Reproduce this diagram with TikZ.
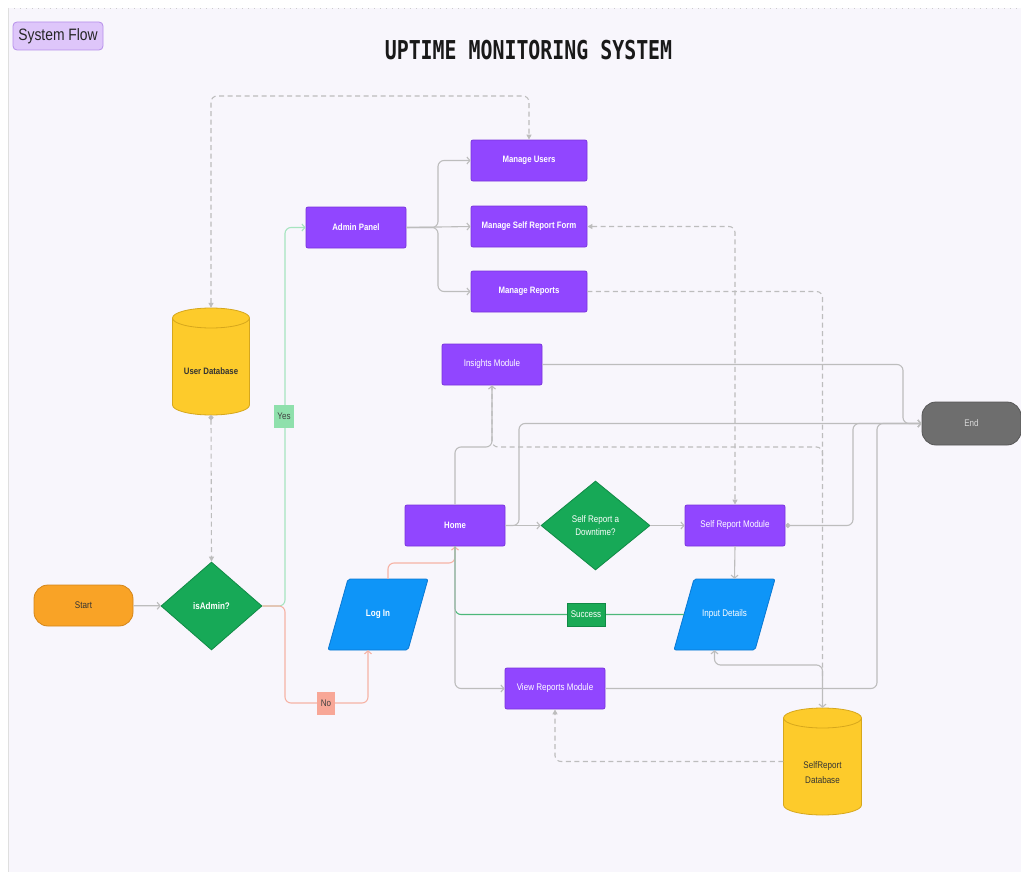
\documentclass[tikz,border=0pt]{standalone}
\usepackage{fontspec}
\setmainfont[FakeStretch=0.84]{Liberation Sans}
\newfontfamily\titlefont[FakeStretch=0.765]{DejaVu Sans Mono}
\usetikzlibrary{arrows.meta,calc,shapes.geometric}
\definecolor{bg}{HTML}{F8F6FC}
\definecolor{purp}{HTML}{9146FF}
\definecolor{purpd}{HTML}{7A34DC}
\definecolor{grn}{HTML}{17A957}
\definecolor{grnd}{HTML}{118A46}
\definecolor{blu}{HTML}{0E95F8}
\definecolor{blud}{HTML}{0A78D2}
\definecolor{yel}{HTML}{FDCB2B}
\definecolor{yeld}{HTML}{D6A71C}
\definecolor{org}{HTML}{F9A326}
\definecolor{orgd}{HTML}{D4861A}
\definecolor{endg}{HTML}{6E6E6E}
\definecolor{endd}{HTML}{575757}
\definecolor{ln}{HTML}{BDBDBD}
\definecolor{lnyes}{HTML}{A6E4BF}
\definecolor{lnno}{HTML}{F6B3A5}
\definecolor{lnsucc}{HTML}{4DB87A}
\definecolor{yesfill}{HTML}{8FE0AC}
\definecolor{nofill}{HTML}{F8A797}
\definecolor{succfill}{HTML}{1BAA56}
\definecolor{tagfill}{HTML}{DEC6FA}
\definecolor{tagdraw}{HTML}{B68FEA}
\begin{document}
\begin{tikzpicture}[x=1pt,y=-1pt,
  >={Straight Barb[length=3pt,width=7pt]},
  nodefont/.style={font=\fontsize{9.6}{11.5}\selectfont},
  proc/.style={rectangle, rounded corners=2pt, fill=purp, draw=purpd, line width=0.8pt,
    minimum width=100pt, minimum height=41pt, text=white, align=center, inner sep=0pt, nodefont},
  mng/.style={proc, minimum width=116pt},
  bproc/.style={proc, font=\fontsize{9.3}{11}\selectfont\bfseries},
  bmng/.style={mng, font=\fontsize{9.3}{11}\selectfont\bfseries},
  dec/.style={diamond, fill=grn, draw=grnd, line width=0.8pt, text=white, align=center,
    inner sep=0pt, nodefont},
  term/.style={rectangle, rounded corners=14pt, line width=0.8pt, minimum width=99pt,
    minimum height=41pt, inner sep=0pt, nodefont},
  txtonly/.style={rectangle, draw=none, inner sep=0pt, align=center, nodefont},
  lbl/.style={rectangle, inner sep=0pt, minimum height=23pt, nodefont},
  conn/.style={draw=ln, line width=1.1pt, rounded corners=6pt},
  dashln/.style={draw=ln, line width=1.1pt, rounded corners=6pt, dash pattern=on 5pt off 3.5pt},
  yesln/.style={draw=lnyes, line width=1.1pt, rounded corners=6pt},
  noln/.style={draw=lnno, line width=1.1pt, rounded corners=6pt},
  succln/.style={draw=lnsucc, line width=1.1pt, rounded corners=6pt}
]
\useasboundingbox (0,0) rectangle (1021,875);
\fill[white] (0,0) rectangle (1021,875);
\fill[bg] (8,8) rectangle (1021,872);
\draw[gray!40, line width=0.6pt, dash pattern=on 1pt off 5pt] (8,8) -- (1021,8);
\draw[gray!25, line width=0.5pt] (8,8) -- (8,872);

% tag and title
\node[rectangle, rounded corners=4pt, fill=tagfill, draw=tagdraw, line width=0.8pt,
  minimum width=90pt, minimum height=28pt, inner sep=0pt, text=black!85,
  font=\fontsize{16.5}{19}\selectfont] (tag) at (58,36) {System Flow};
\node[inner sep=0pt, text=black!90, font=\titlefont\bfseries\fontsize{26}{30}\selectfont] (title) at (528.5,50) {UPTIME MONITORING SYSTEM};

% parallelogram bodies
\filldraw[fill=blu, draw=blud, line width=0.8pt, rounded corners=2pt]
  (328,650) -- (348,579) -- (428,579) -- (408,650) -- cycle;
\filldraw[fill=blu, draw=blud, line width=0.8pt, rounded corners=2pt]
  (674,650) -- (694,579) -- (775,579) -- (755,650) -- cycle;

% cylinders
\filldraw[fill=yel, draw=yeld, line width=0.8pt] (172.5,318) -- (172.5,405)
  arc[start angle=180,end angle=360,x radius=38.5pt,y radius=10pt] -- (249.5,318)
  arc[start angle=0,end angle=180,x radius=38.5pt,y radius=10pt] -- cycle;
\draw[yeld, line width=0.8pt] (172.5,318) arc[start angle=180,end angle=360,x radius=38.5pt,y radius=10pt];
\filldraw[fill=yel, draw=yeld, line width=0.8pt] (783.5,718) -- (783.5,805)
  arc[start angle=180,end angle=360,x radius=39pt,y radius=10pt] -- (861.5,718)
  arc[start angle=0,end angle=180,x radius=39pt,y radius=10pt] -- cycle;
\draw[yeld, line width=0.8pt] (783.5,718) arc[start angle=180,end angle=360,x radius=39pt,y radius=10pt];

% nodes
\node[bmng] (mu) at (529,160.5) {Manage Users};
\node[bmng] (msrf) at (529,226.5) {Manage Self Report Form};
\node[bmng] (mr) at (529,291.5) {Manage Reports};
\node[bproc] (ap) at (356,227.5) {Admin Panel};
\node[proc] (ins) at (492,364.5) {Insights Module};
\node[bproc] (home) at (455,525.5) {Home};
\node[proc] (srm) at (735,525.5) {Self Report Module};
\node[proc] (vrm) at (555,688.5) {View Reports Module};
\node[dec, minimum width=109pt, minimum height=89pt] (srd) at (595.5,525.5) {Self Report a\\[2pt]Downtime?};
\node[dec, minimum width=101pt, minimum height=88pt, font=\fontsize{9.6}{11}\selectfont\bfseries] (adm) at (211.5,606) {isAdmin?};
\node[term, fill=org, draw=orgd, text=black!80] (start) at (83.5,605.5) {Start};
\node[term, fill=endg, draw=endd, text=black!15, minimum height=43pt] (end) at (971.5,423.5) {End};
\node[txtonly, minimum width=100pt, minimum height=71pt, text=white, font=\fontsize{9.6}{11}\selectfont\bfseries] (login) at (378,614.5) {Log In};
\node[txtonly, minimum width=101pt, minimum height=71pt, text=white] (inp) at (724.5,614.5) {Input Details};
\node[txtonly, minimum width=77pt, text height=66.5pt, text depth=40.5pt, text=black!80, font=\fontsize{9.3}{11}\selectfont\bfseries] (udb) at (211,361.5) {User Database};
\node[txtonly, minimum width=78pt, text height=75.5pt, text depth=31.5pt, text=black!80] (sdb) at (822.5,761.5) {SelfReport\\[4pt]Database};

% connectors
\draw[conn,->] (start) -- (adm);
\draw[yesln,->] (adm.east) -- (285,606) |- (ap.west);
\draw[noln,->] (adm.east) -- (285,606) |- (368,703) -- ($(login.south)+(-10,0)$);
\draw[noln,->] ($(login.north)+(10,0)$) -- (388,563) -| (home.south);
\draw[conn,->] (ap.east) -- (438,227.5) |- (mu.west);
\draw[conn,->] (ap.east) -- (msrf.west);
\draw[conn,->] (ap.east) -- (438,227.5) |- (mr.west);
\draw[dashln,{Triangle[length=5pt,width=5pt]}-{Triangle[length=5pt,width=5pt]}] (udb.north) -- (211,96) -| (mu.north);
\draw[dashln,{Circle[length=5pt]}-{Triangle[length=5pt,width=5pt]}] (udb.south) -- (adm.north);
\draw[dashln,{Triangle[length=5pt,width=5pt]}-{Triangle[length=5pt,width=5pt]}] (msrf.east) -| (srm.north);
\draw[dashln] (mr.east) -| (822.5,680);
\draw[dashln] (ins.south) -- (492,447) -- (822.5,447) -- (822.5,470);
\draw[conn,->] (home.north) -- (455,447) -- (492,447) -- (ins.south);
\draw[conn,->] (home.east) -- (srd.west);
\draw[conn,->] (home.east) -- (519,525.5) |- (end.west);
\draw[conn,->] (ins.east) -- (903,364.5) |- (end.west);
\draw[conn,->] (srd.east) -- (srm.west);
\draw[conn,{Circle[length=5pt]}->] (srm.east) -- (853,525.5) |- (end.west);
\draw[conn,->] (vrm.east) -- (877,688.5) |- (end.west);
\draw[conn,->] (srm.south) -- ($(inp.north)+(10,0)$);
\draw[succln] ($(inp.west)+(10,0)$) -| (home.south);
\draw[conn,->] (home.south) |- (vrm.west);
\draw[conn,<->] ($(inp.south)+(-10,0)$) -- (714.5,665) -| (sdb.north);
\draw[dashln,-{Triangle[length=5pt,width=5pt]}] (sdb.west) -| (vrm.south);

% labels
\node[lbl, fill=yesfill, minimum width=20pt, text=black!75] (yes) at (284,416.5) {Yes};
\node[lbl, fill=nofill, minimum width=18pt, text=black!75] (no) at (326,703.5) {No};
\node[lbl, fill=succfill, draw=grnd, line width=0.5pt, minimum width=38pt, text=white] (succ) at (586,614.5) {Success};
\end{tikzpicture}
\end{document}
